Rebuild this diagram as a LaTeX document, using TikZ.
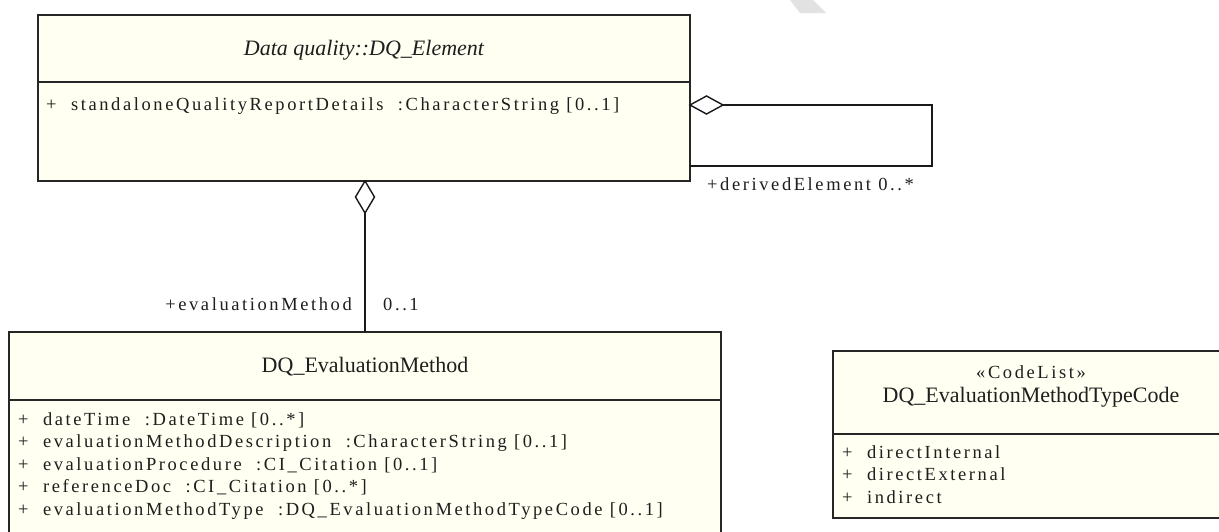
\documentclass[tikz,border=0pt]{standalone}
\usepackage{fontspec}
\setmainfont{Liberation Serif}
\newfontfamily\spfont[LetterSpace=14]{Liberation Serif}
\usetikzlibrary{shapes.geometric}
\definecolor{classfill}{RGB}{255,255,242}
\definecolor{wmgrey}{RGB}{226,226,226}
\definecolor{txt}{RGB}{30,30,30}
\begin{document}
\begin{tikzpicture}[x=1pt,y=-1pt,
  classbox/.style={draw=black!85, line width=1.6pt, fill=classfill, inner sep=0pt, outer sep=0pt, anchor=north west},
  divider/.style={draw=black!85, line width=1.6pt},
  assoc/.style={draw=black!90, line width=1.4pt},
  aggdiamond/.style={diamond, draw=black!90, line width=1.4pt, fill=white, inner sep=0pt, outer sep=0pt},
  attr/.style={font=\spfont\fontsize{18.5}{21}\selectfont, text=txt, inner sep=0pt, anchor=mid west},
  classname/.style={font=\fontsize{22}{26}\selectfont, text=txt, inner sep=0pt, anchor=mid},
]
\useasboundingbox (0,0) rectangle (1219,531);
\fill[white] (0,0) rectangle (1219,531);

% faint watermark fragment
\fill[wmgrey] (790,0) -- (813,0) -- (826,13) -- (800,13) -- cycle;

% DQ_Element
\node[classbox, minimum width=652pt, minimum height=166pt] (elem) at (38,15) {};
\draw[divider] (38,82) -- (690,82);
\node[classname, font=\itshape\fontsize{22}{26}\selectfont] (elemname) at (364,53) {Data quality::DQ\_Element};
\node[attr] (elemattr) at (46,108) {+~ standaloneQualityReportDetails~ :CharacterString [0..1]};

% DQ_EvaluationMethod
\node[classbox, minimum width=712pt, minimum height=215pt] (evm) at (9,332) {};
\draw[divider] (9,400) -- (721,400);
\node[classname] (evmname) at (365,370) {DQ\_EvaluationMethod};
\node[attr] (evma1) at (18,423) {+~ dateTime~ :DateTime [0..*]};
\node[attr] (evma2) at (18,445.5) {+~ evaluationMethodDescription~ :CharacterString [0..1]};
\node[attr] (evma3) at (18,468) {+~ evaluationProcedure~ :CI\_Citation [0..1]};
\node[attr] (evma4) at (18,490.5) {+~ referenceDoc~ :CI\_Citation [0..*]};
\node[attr] (evma5) at (18,513) {+~ evaluationMethodType~ :DQ\_EvaluationMethodTypeCode [0..1]};

% DQ_EvaluationMethodTypeCode
\node[classbox, minimum width=400pt, minimum height=167pt] (code) at (833,351) {};
\draw[divider] (833,434) -- (1233,434);
\node[attr, anchor=mid] (codester) at (1031,376) {«CodeList»};
\node[classname] (codename) at (1031,400) {DQ\_EvaluationMethodTypeCode};
\node[attr] (codea1) at (842,456) {+~ directInternal};
\node[attr] (codea2) at (842,478.5) {+~ directExternal};
\node[attr] (codea3) at (842,501) {+~ indirect};

% self aggregation derivedElement
\node[aggdiamond, minimum width=33pt, minimum height=18pt, anchor=west] (selfagg) at (690,105) {};
\coordinate (loopcorner) at (932,166);
\coordinate (loopend) at (690,166);
\draw[assoc] (selfagg.east) -| (loopcorner) -- (loopend);
\node[attr] (lblder) at (707,188) {+derivedElement 0..*};

% aggregation evaluationMethod
\node[aggdiamond, minimum width=19pt, minimum height=32pt, anchor=north] (evagg) at (365,181) {};
\draw[assoc] (evagg.south) -- (evm.north);
\node[attr, anchor=mid east] (lblevm) at (352,308) {+evaluationMethod};
\node[attr] (multevm) at (383,308) {0..1};
\end{tikzpicture}
\end{document}
